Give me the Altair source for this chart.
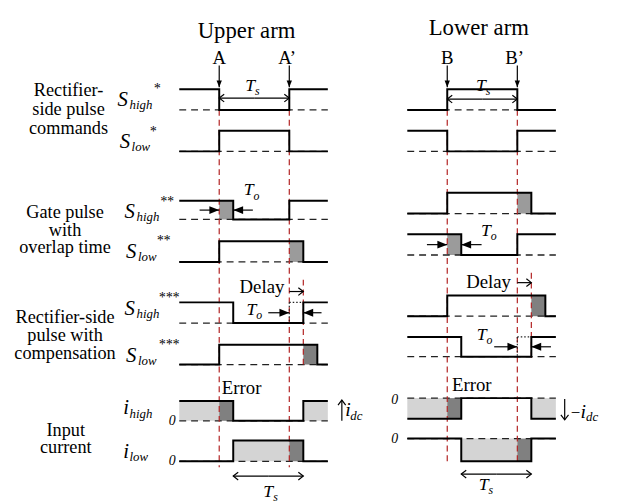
import altair as alt
import pandas as pd

# ---------------- timing values (units of one switching period Ts) ----------------
TS = 1.0          # switching period
TO = 0.2          # overlap time
TD = 0.2          # compensation delay
T_START, T_END = -0.57, 1.55
LOWER_SHIFT = 3.254          # lower-arm diagram placed to the right of the upper one

SIGNALS = ["Sh1", "Sl1", "Sh2", "Sl2", "Sh3", "Sl3", "ih", "il"]
# edge times of every signal and its initial level (1 = upper trace level)
UPPER_EDGES = [[0, TS], [0, TS], [TO, TS], [0, TS + TO], [TO, TS + TD],
               [0, TS + TD + TO], [TO, TS + TD], [TO, TS + TD]]
UPPER_INIT = [1, 0, 1, 0, 1, 0, 1, 0]
LOWER_EDGES = [[0, TS], [0, TS], [0, TS + TO], [TO, TS], [0, TS + TD + TO],
               [TO, TS + TD], [TO, TS + TD], [TO, TS + TD]]
LOWER_INIT = [0, 1, 0, 1, 0, 1, 1, 0]

# row layout (level-1 line, level-0 line) for each signal
UPPER_ROWS = [(87, 108), (129, 150), (200, 219), (241, 262), (303, 324), (346, 366), (403, 423), (443, 464)]
LOWER_ROWS = [(87, 108), (129, 150), (192, 213), (234, 255), (296, 317), (338, 358), (421, 400), (464, 441)]

# shaded intervals: (signal index, start, end, shade)
UPPER_FILLS = [(2, 0, TO, "mid"), (3, TS, TS + TO, "mid"), (5, TS + TD, TS + TD + TO, "dark"),
               (6, T_START, 0, "light"), (6, 0, TO, "dark"), (6, TS + TD, T_END, "light"),
               (7, TO, TS, "light"), (7, TS, TS + TD, "dark")]
LOWER_FILLS = [(2, TS, TS + TO, "mid"), (3, 0, TO, "mid"), (4, TS + TD, TS + TD + TO, "dark"),
               (6, T_START, 0, "light"), (6, 0, TO, "dark"), (6, TS + TD, T_END, "light"),
               (7, TO, TS, "light"), (7, TS, TS + TD, "dark")]
SHADES = {"mid": "#9b9b9b", "dark": "#808080", "light": "#d4d4d4"}

# ---------------- build tables ----------------
lines, base, fills = [], [], []


def add_panel(edges, init, rows, fl, shift, name):
    for i, (ed, lv, (y1, y0)) in enumerate(zip(edges, init, rows)):
        lid = f"{name}{i}"
        pts = [(T_START, lv)]
        cur = lv
        for e in ed:
            pts.append((e, cur))
            cur = 1 - cur
            pts.append((e, cur))
        pts.append((T_END, cur))
        for k, (t, l) in enumerate(pts):
            lines.append({"id": lid, "k": k, "t": t + shift, "y": y1 if l else y0})
        base.append({"t": T_START + shift, "t2": T_END + shift, "y": y0})
    for (i, a, b, s) in fl:
        y1, y0 = rows[i]
        fills.append({"t": a + shift, "t2": b + shift, "y": y1, "y2": y0, "c": SHADES[s]})


add_panel(UPPER_EDGES, UPPER_INIT, UPPER_ROWS, UPPER_FILLS, 0, "u")
add_panel(LOWER_EDGES, LOWER_INIT, LOWER_ROWS, LOWER_FILLS, LOWER_SHIFT, "l")

L = LOWER_SHIFT
red = pd.DataFrame([
    {"t": 0, "y": 108, "y2": 470}, {"t": TS, "y": 108, "y2": 470}, {"t": TS + TD, "y": 280, "y2": 370},
    {"t": L, "y": 108, "y2": 464}, {"t": L + TS, "y": 108, "y2": 464}, {"t": L + TS + TD, "y": 273, "y2": 362},
])
dotted = pd.DataFrame([
    {"t": TS, "t2": TS + TD, "y": 303, "y2": 303}, {"t": TS, "t2": TS, "y": 303, "y2": 324},
    {"t": L + TS, "t2": L + TS + TD, "y": 338, "y2": 338}, {"t": L + TS, "t2": L + TS, "y": 338, "y2": 358},
])

# arrows: shaft (t,y)->(t2,y2), head at (t2,y2) with angle and style
arrows = [
    # A, A', B, B'
    (0, 63, 0, 85, 90, "tri_s"), (TS, 63, TS, 85, 90, "tri_s"),
    (L, 63, L, 85, 90, "tri_s"), (L + TS, 63, L + TS, 85, 90, "tri_s"),
    # Ts double arrows (top)
    (0.5, 96, 0, 96, 180, "open"), (0.5, 96, TS, 96, 0, "open"),
    (L + 0.5, 97, L, 97, 180, "open"), (L + 0.5, 97, L + TS, 97, 0, "open"),
    # Ts double arrows (bottom)
    (TO + 0.5, 479, TO, 479, 180, "open"), (TO + 0.5, 479, TO + TS, 479, 0, "open"),
    (L + TO + 0.5, 477, L + TO, 477, 180, "open"), (L + TO + 0.5, 477, L + TO + TS, 477, 0, "open"),
    # To arrows
    (-0.28, 209.5, 0, 209.5, 0, "tri"), (TO + 0.28, 209.5, TO, 209.5, 180, "tri"),
    (L - 0.29, 244.5, L, 244.5, 0, "tri"), (L + TO + 0.29, 244.5, L + TO, 244.5, 180, "tri"),
    (TS - 0.3, 313.5, TS, 313.5, 0, "tri"), (TS + TD + 0.26, 313.5, TS + TD, 313.5, 180, "tri"),
    (L + TS - 0.33, 348, L + TS, 348, 0, "tri"), (L + TS + TD + 0.28, 348, L + TS + TD, 348, 180, "tri"),
    # Delay arrows
    (TS, 292, TS + TD, 292, 0, "open"), (L + TS, 283, L + TS + TD, 283, 0, "open"),
    # current direction arrows
    (1.75, 423, 1.75, 402, 270, "open"), (L + 1.676, 401, L + 1.676, 422, 90, "open"),
]
arr = pd.DataFrame(arrows, columns=["t", "y", "t2", "y2", "ang", "kind"])

# text labels: (text, t, y, size)
normal_txt = [
    ("Upper arm", 0.39, 28, 23), ("Lower arm", L + 0.45, 25, 23),
    ("A", 0, 55, 19), ("A\u2019", 0.97, 55, 19), ("B", L, 55, 19), ("B\u2019", L + 0.96, 55, 19),
    ("Delay", 0.61, 288, 19), ("Delay", L + 0.59, 282, 19),
    ("Error", 0.32, 390, 19), ("Error", L + 0.35, 387, 19),
    ("Rectifier-", -2.15, 88, 18.5), ("side pulse", -2.15, 107, 18.5), ("commands", -2.15, 126, 18.5),
    ("Gate pulse", -2.2, 212, 18.5), ("with", -2.2, 229.5, 18.5), ("overlap time", -2.2, 247, 18.5),
    ("Rectifier-side", -2.2, 318, 18.5), ("pulse with", -2.2, 336, 18.5), ("compensation", -2.2, 354, 18.5),
    ("Input", -2.19, 432, 18.5), ("current", -2.19, 450, 18.5),
    ("\u2212", L + 1.83, 415, 17),
]
italic_txt = [
    ("S", -1.45, 98, 21), ("high", -1.28, 103, 13), ("*", -0.94, 87, 14),
    ("S", -1.42, 141, 21), ("low", -1.25, 146, 13), ("*", -1.0, 130, 14),
    ("S", -1.35, 212, 21), ("high", -1.18, 217, 13), ("**", -0.85, 201, 14),
    ("S", -1.33, 252, 21), ("low", -1.16, 257, 13), ("**", -0.9, 241, 14),
    ("S", -1.35, 310, 21), ("high", -1.18, 315, 13), ("***", -0.87, 299, 14),
    ("S", -1.33, 357, 21), ("low", -1.16, 362, 13), ("***", -0.87, 346, 14),
    ("i", -1.37, 410, 21), ("high", -1.28, 416, 13),
    ("i", -1.37, 455, 21), ("low", -1.28, 460, 13),
    ("0", -0.72, 423, 14), ("0", -0.72, 464, 14),
    ("0", L - 0.8, 402, 14), ("0", L - 0.8, 441, 14),
    ("T", 0.37, 84, 18), ("s", 0.51, 89, 12),
    ("T", L + 0.41, 84, 18), ("s", L + 0.55, 89, 12),
    ("T", 0.35, 189, 18), ("o", 0.49, 195, 12),
    ("T", L + 0.48, 231, 18), ("o", L + 0.62, 236, 12),
    ("T", 0.39, 311, 18), ("o", 0.53, 316, 12),
    ("T", L + 0.42, 336, 18), ("o", L + 0.56, 341, 12),
    ("T", 0.63, 495, 18), ("s", 0.77, 500, 12),
    ("T", L + 0.45, 488, 18), ("s", L + 0.59, 493, 12),
    ("i", 1.8, 412, 20), ("dc", 1.87, 418, 13),
    ("i", L + 1.9, 414, 20), ("dc", L + 1.98, 419, 13),
]
ntxt = pd.DataFrame(normal_txt, columns=["text", "t", "y", "size"])
itxt = pd.DataFrame(italic_txt, columns=["text", "t", "y", "size"])

# ---------------- scales ----------------
PX_PER_T = 71.0
X0 = 222.0
W, H = 615, 495
FONT = "Liberation Serif, Times New Roman, serif"
xs = alt.Scale(domain=[(8 - X0) / PX_PER_T, (8 + W - X0) / PX_PER_T], nice=False, zero=False)
ys = alt.Scale(domain=[8, 8 + H], reverse=True, nice=False, zero=False)
X = lambda f="t": alt.X(f"{f}:Q", scale=xs, axis=None)
Y = lambda f="y": alt.Y(f"{f}:Q", scale=ys, axis=None)

fill_layer = alt.Chart(pd.DataFrame(fills)).mark_rect(strokeWidth=0).encode(
    x=X(), x2="t2:Q", y=Y(), y2="y2:Q", color=alt.Color("c:N", scale=None))
base_layer = alt.Chart(pd.DataFrame(base)).mark_rule(
    color="#222", strokeWidth=1.3, strokeDash=[7, 5]).encode(x=X(), x2="t2:Q", y=Y())
red_layer = alt.Chart(red).mark_rule(color="#b22222", strokeWidth=1.2, strokeDash=[6, 4]).encode(
    x=X(), y=Y(), y2="y2:Q")
dot_layer = alt.Chart(dotted).mark_rule(color="#222", strokeWidth=1.2, strokeDash=[1.5, 2]).encode(
    x=X(), x2="t2:Q", y=Y(), y2="y2:Q")
wave_layer = alt.Chart(pd.DataFrame(lines)).mark_line(color="black", strokeWidth=2).encode(
    x=X(), y=Y(), detail="id:N", order="k:Q")
shaft_layer = alt.Chart(arr).mark_rule(color="black", strokeWidth=1.2).encode(
    x=X(), x2="t2:Q", y=Y(), y2="y2:Q")
TRI = "M0,0 L-2,-0.8 L-2,0.8 Z"
OPEN = "M-1.3,-1 L0,0 L-1.3,1"
head_tri = alt.Chart(arr[arr.kind == "tri"]).mark_point(
    shape=TRI, filled=True, color="black", size=100, opacity=1).encode(
    x=X("t2"), y=Y("y2"), angle=alt.Angle("ang:Q", scale=None))
head_tri_s = alt.Chart(arr[arr.kind == "tri_s"]).mark_point(
    shape=TRI, filled=True, color="black", size=45, opacity=1).encode(
    x=X("t2"), y=Y("y2"), angle=alt.Angle("ang:Q", scale=None))
head_open = alt.Chart(arr[arr.kind == "open"]).mark_point(
    shape=OPEN, filled=False, color="black", size=60, strokeWidth=1.2, opacity=1).encode(
    x=X("t2"), y=Y("y2"), angle=alt.Angle("ang:Q", scale=None))
ntext_layer = alt.Chart(ntxt).mark_text(
    font=FONT, align="center", baseline="middle", color="black").encode(
    x=X(), y=Y(), text="text:N", size=alt.Size("size:Q", scale=None))
itext_layer = alt.Chart(itxt).mark_text(
    font=FONT, fontStyle="italic", align="left", baseline="middle", color="black").encode(
    x=X(), y=Y(), text="text:N", size=alt.Size("size:Q", scale=None))

chart = alt.layer(
    fill_layer, base_layer, red_layer, dot_layer, wave_layer, shaft_layer,
    head_tri, head_tri_s, head_open, ntext_layer, itext_layer
).properties(
    width=W, height=H, padding=0, autosize=alt.AutoSizeParams(type="none"), background="white"
).configure_view(stroke=None)

chart.save("out.html", embed_options={"renderer": "svg", "actions": False})
